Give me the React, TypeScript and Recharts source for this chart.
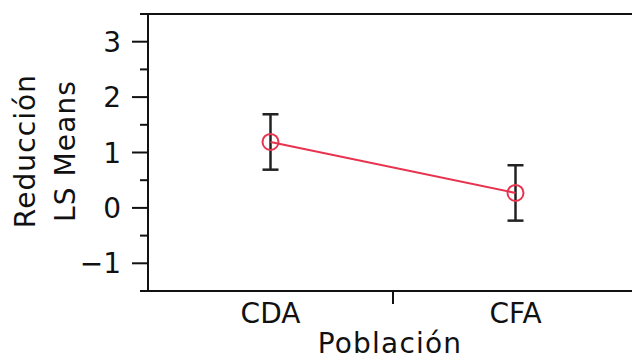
import React from 'react';
import { LineChart, Line, XAxis, YAxis, ErrorBar, ReferenceLine } from 'recharts';

const categories = ['CDA', 'CFA'];
const lsMeans = [1.19, 0.27];
const stdErrors = [0.5, 0.5];
const yTicks = [-1.5, -1, -0.5, 0, 0.5, 1, 1.5, 2, 2.5, 3, 3.5];
const majorYTicks = [-1, 0, 1, 2, 3];
const xTicks = [0.5, 1, 1.5];

const data = categories.map((c, i) => ({ pos: i + 0.5, name: c, mean: lsMeans[i], err: stdErrors[i] }));

const FONT = 'DejaVu Sans';
const INK = '#111';
const RED = '#e8334f';

const YTick = (props: any) => {
  const { x, y, payload } = props;
  const v = payload.value;
  const major = majorYTicks.includes(v);
  return (
    <g>
      <line x1={x - (major ? 16 : 8)} x2={x} y1={y} y2={y} stroke={INK} strokeWidth={2} />
      {major && (
        <text x={x - 27} y={y} dy={10} textAnchor="end" fontSize={28} fill={INK} fontFamily={FONT}>
          {v < 0 ? '\u2212' + Math.abs(v) : String(v)}
        </text>
      )}
    </g>
  );
};

const XTick = (props: any) => {
  const { x, y, payload } = props;
  const v = payload.value;
  if (Number.isInteger(v)) {
    return <line x1={x} x2={x} y1={y} y2={y + 13} stroke={INK} strokeWidth={2} />;
  }
  return (
    <text x={x} y={y + 32} textAnchor="middle" fontSize={28} fill={INK} fontFamily={FONT}>
      {categories[Math.floor(v)]}
    </text>
  );
};

const Dot = (props: any) => {
  const { cx, cy } = props;
  return <circle cx={cx} cy={cy} r={8} fill="none" stroke={RED} strokeWidth={2} />;
};

const YLabel = () => (
  <g fontFamily={FONT} fontSize={28} fill={INK} letterSpacing={1.1}>
    <text transform="translate(35,151) rotate(-90)" textAnchor="middle">Reducción</text>
    <text transform="translate(75,151) rotate(-90)" textAnchor="middle">LS Means</text>
  </g>
);

const XLabel = () => (
  <text x={390} y={353} textAnchor="middle" fontFamily={FONT} fontSize={28} fill={INK} letterSpacing={1.2}>
    Población
  </text>
);

export default function App() {
  return (
    <div style={{ position: 'fixed', left: 0, top: 0, width: 632, height: 360, overflow: 'hidden', background: '#fff' }}>
      <LineChart width={660} height={360} data={data} margin={{ top: 14, right: 22, bottom: 0, left: 0 }}>
        <XAxis
          type="number"
          dataKey="pos"
          domain={[0, 2]}
          ticks={xTicks}
          interval={0}
          tickSize={0}
          tickMargin={0}
          tickLine={false}
          tick={<XTick />}
          height={69}
          axisLine={{ stroke: INK, strokeWidth: 2 }}
          label={{ content: () => <XLabel /> }}
        />
        <YAxis
          type="number"
          domain={[-1.5, 3.5]}
          ticks={yTicks}
          interval={0}
          tickSize={0}
          tickMargin={0}
          tickLine={false}
          tick={<YTick />}
          width={148}
          axisLine={{ stroke: INK, strokeWidth: 2 }}
          label={{ content: () => <YLabel /> }}
        />
        <ReferenceLine y={3.5} stroke={INK} strokeWidth={2} />
        <Line
          dataKey="mean"
          stroke={RED}
          strokeWidth={2}
          dot={<Dot />}
          activeDot={false}
          isAnimationActive={false}
        >
          <ErrorBar dataKey="err" width={8} stroke="#222" strokeWidth={2.5} direction="y" />
        </Line>
      </LineChart>
    </div>
  );
}
